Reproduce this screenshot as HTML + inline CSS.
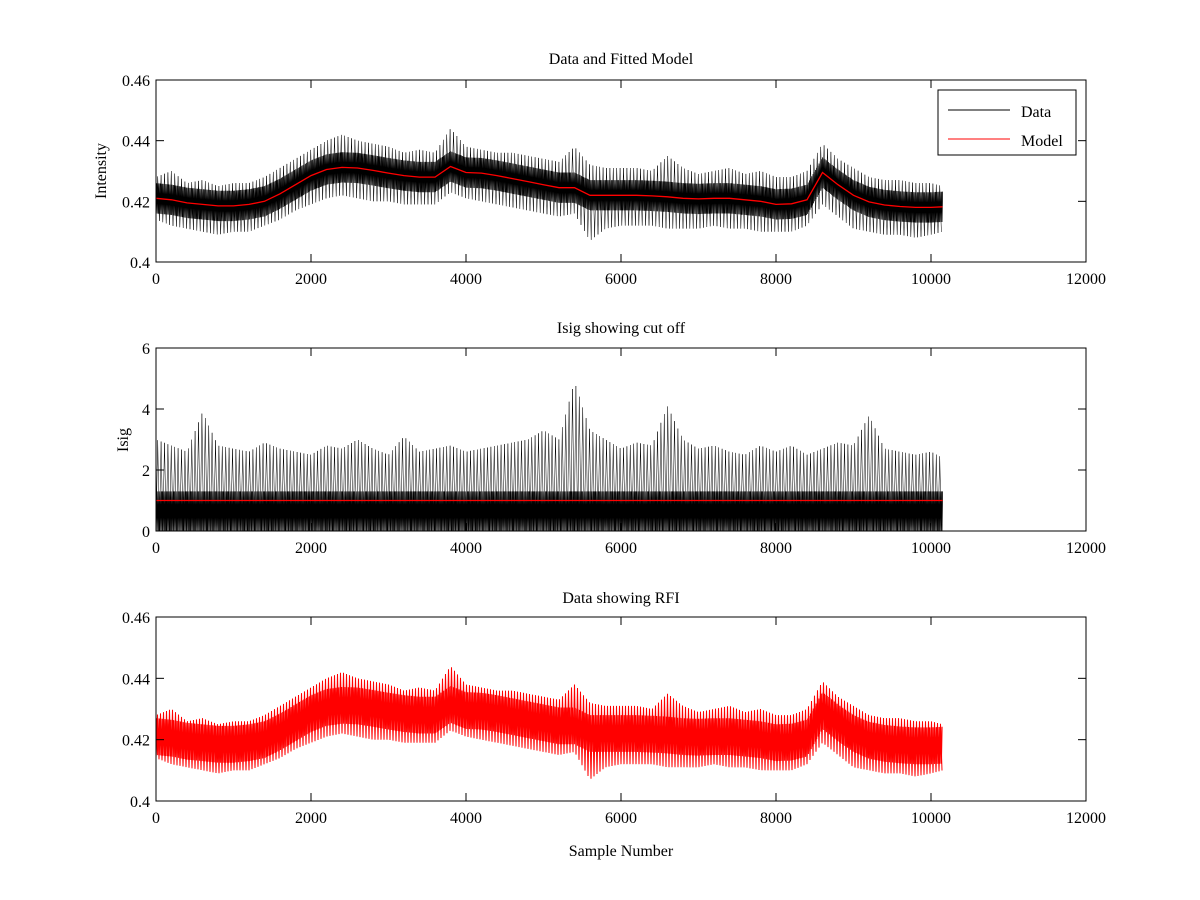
<!DOCTYPE html>
<html><head><meta charset="utf-8"><style>
body{margin:0;background:#fff}
svg{display:block}
text{font-family:"Liberation Serif",serif;font-size:16px;fill:#000}
</style></head><body>
<svg id="c" width="1200" height="900"></svg>
<script>
const xs=[0,200,400,600,800,1000,1200,1400,1600,1800,2000,2200,2400,2600,2800,3000,3200,3400,3600,3800,4000,4200,4400,4600,4800,5000,5200,5400,5600,5800,6000,6200,6400,6600,6800,7000,7200,7400,7600,7800,8000,8200,8400,8600,8800,9000,9200,9400,9600,9800,10000,10150];
const model=[.421,.4205,.4195,.419,.4185,.4185,.419,.420,.4225,.4255,.4285,.4305,.4312,.431,.4302,.4293,.4285,.428,.428,.4315,.4295,.4293,.4285,.4275,.4265,.4255,.4245,.4245,.422,.422,.422,.422,.4218,.4215,.421,.4208,.421,.421,.4205,.420,.419,.4192,.4205,.4295,.4255,.422,.4198,.4188,.4183,.418,.418,.4182];
const upper=[.428,.430,.426,.427,.425,.426,.426,.428,.431,.434,.437,.440,.442,.440,.439,.438,.436,.437,.436,.444,.438,.437,.436,.436,.435,.434,.433,.438,.432,.431,.431,.431,.430,.435,.431,.429,.430,.431,.429,.430,.428,.428,.430,.439,.434,.431,.428,.427,.427,.426,.426,.425];
const lower=[.414,.412,.411,.410,.409,.410,.410,.412,.414,.417,.419,.421,.422,.421,.420,.420,.419,.419,.419,.423,.421,.420,.419,.418,.417,.416,.415,.416,.407,.411,.412,.412,.412,.411,.411,.411,.412,.411,.411,.410,.410,.410,.412,.419,.415,.411,.410,.409,.409,.408,.409,.410];
const isigMax=[3.0,2.8,2.6,3.9,2.8,2.7,2.6,2.9,2.7,2.6,2.5,2.8,2.7,3.0,2.7,2.5,3.1,2.6,2.7,2.8,2.6,2.7,2.8,2.9,3.0,3.3,3.0,4.9,3.3,3.0,2.7,2.9,2.8,4.1,3.0,2.7,2.8,2.6,2.5,2.8,2.6,2.8,2.5,2.7,2.9,2.8,3.8,2.7,2.6,2.5,2.6,2.4];
const cutoff=1.0;
const xTicks=[0,2000,4000,6000,8000,10000,12000];
const yTicksI=[0.4,0.42,0.44,0.46];
const yTicksS=[0,2,4,6];
const NS="http://www.w3.org/2000/svg";
const svg=document.getElementById('c');
function el(t,a,p){const e=document.createElementNS(NS,t);for(const k in a)e.setAttribute(k,a[k]);(p||svg).appendChild(e);return e;}
const X0=156,X1=1086;
const sx=v=>X0+(v/12000)*(X1-X0);
function interp(arr,x){let i=0;while(i<xs.length-2&&xs[i+1]<x)i++;const t=Math.max(0,Math.min(1,(x-xs[i])/(xs[i+1]-xs[i])));return arr[i]+(arr[i+1]-arr[i])*t;}
function axes(g,top,bot,ymin,ymax,yt,fmt){
  const sy=v=>bot-(v-ymin)/(ymax-ymin)*(bot-top);
  el('rect',{x:X0,y:top,width:X1-X0,height:bot-top,fill:'none',stroke:'#000','stroke-width':1},g);
  xTicks.forEach(t=>{const x=sx(t);
    el('line',{x1:x,x2:x,y1:bot,y2:bot-8,stroke:'#000'},g);el('line',{x1:x,x2:x,y1:top,y2:top+8,stroke:'#000'},g);
    const tx=el('text',{x:x,y:bot+22,'text-anchor':'middle'},g);tx.textContent=t;
    
    });
  yt.forEach(t=>{const y=sy(t);
    el('line',{x1:X0,x2:X0+8,y1:y,y2:y,stroke:'#000'},g);el('line',{x1:X1,x2:X1-8,y1:y,y2:y,stroke:'#000'},g);
    const tx=el('text',{x:X0-6,y:y+6,'text-anchor':'end'},g);tx.textContent=fmt(t);
    
    });
  return sy;
}
function band(g,sy,lo,hi,step,color,w){
  let d='';let k=0;
  for(let px=sx(0);px<=sx(10150);px+=step,k++){
    const v=(px-X0)/(X1-X0)*12000;
    const y=k%2?sy(hi(v)):sy(lo(v));
    d+=(k?'L':'M')+px.toFixed(2)+' '+y.toFixed(1);
  }
  el('path',{d:d,fill:'none',stroke:color,'stroke-width':w},g);
}
function title(txt,y,name){const t=el('text',{x:621,y:y,'text-anchor':'middle'});t.textContent=txt;
  }
// Panel 1
const g1=el('g',{});
const sy1=v=>262-(v-0.4)/0.06*182;
band(g1,sy1,v=>interp(lower,v),v=>interp(upper,v),1.7,'#000',0.5);
band(g1,sy1,v=>interp(model,v)-0.005,v=>interp(model,v)+0.005,0.6,'#000',0.8);
let d='';xs.forEach((x,i)=>{d+=(i?'L':'M')+sx(x).toFixed(1)+' '+sy1(model[i]).toFixed(1);});
const ml=el('path',{d:d,fill:'none',stroke:'#f00','stroke-width':1.3},g1);

axes(g1,80,262,0.4,0.46,yTicksI,t=>String(+t.toFixed(2)));
title('Data and Fitted Model',64,'title-fitted-model');
const yl1=el('text',{x:0,y:0,'text-anchor':'middle',transform:'translate(106,171) rotate(-90)'});yl1.textContent='Intensity';

const lg=el('g',{});
el('rect',{x:938,y:90,width:138,height:65,fill:'#fff',stroke:'#000'},lg);
el('line',{x1:948,x2:1010,y1:110,y2:110,stroke:'#000'},lg);
el('line',{x1:948,x2:1010,y1:139,y2:139,stroke:'#f00'},lg);
const l1=el('text',{x:1021,y:117},lg);l1.textContent='Data';
const l2=el('text',{x:1021,y:146},lg);l2.textContent='Model';
// Panel 2
const g2=el('g',{});
const sy2=v=>531-(v/6)*183;
band(g2,sy2,v=>0,v=>interp(isigMax,v),1.7,'#000',0.5);
band(g2,sy2,v=>0,v=>1.3,0.6,'#000',0.8);
const cl=el('line',{x1:sx(0),x2:sx(10150),y1:sy2(cutoff),y2:sy2(cutoff),stroke:'#f00','stroke-width':1.3},g2);

axes(g2,348,531,0,6,yTicksS,t=>String(t));
title('Isig showing cut off',333,'title-isig');
const yl2=el('text',{x:0,y:0,'text-anchor':'middle',transform:'translate(128,440) rotate(-90)'});yl2.textContent='Isig';

// Panel 3
const g3=el('g',{});
const sy3=v=>801-(v-0.4)/0.06*184;
band(g3,sy3,v=>interp(lower,v),v=>interp(upper,v),1.5,'#f00',1);
band(g3,sy3,v=>interp(model,v)-0.006,v=>interp(model,v)+0.006,0.7,'#f00',1);
axes(g3,617,801,0.4,0.46,yTicksI,t=>String(+t.toFixed(2)));
title('Data showing RFI',603,'title-rfi');
const xl=el('text',{x:621,y:856,'text-anchor':'middle'});xl.textContent='Sample Number';

</script>
</body></html>
